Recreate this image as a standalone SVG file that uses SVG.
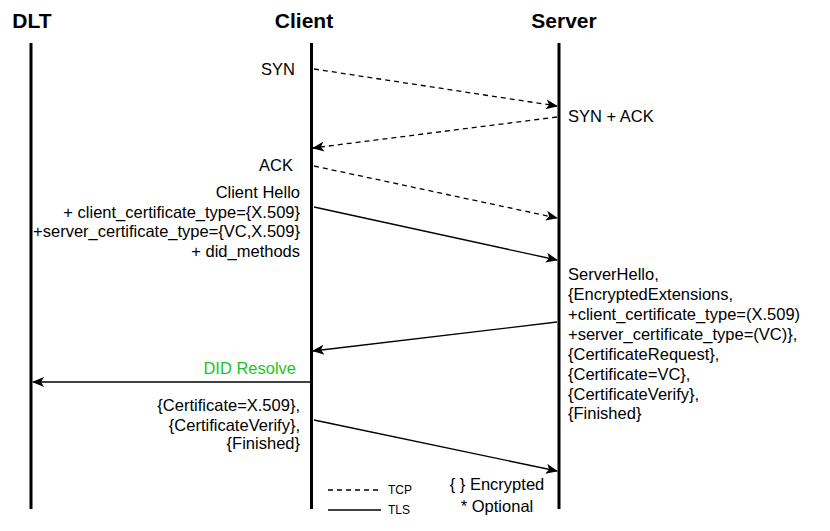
<svg xmlns="http://www.w3.org/2000/svg" width="830" height="531" viewBox="0 0 830 531">
<style>
.t{font-family:"Liberation Sans",Arial,sans-serif;font-size:16.5px;fill:#000}
.h{font-family:"Liberation Sans",Arial,sans-serif;font-size:21px;font-weight:bold;fill:#000}
.life{stroke:#000;stroke-width:3;fill:none}
.tcp{stroke:#000;stroke-width:1.3;stroke-dasharray:5,4;fill:none}
.tls{stroke:#000;stroke-width:1.3;fill:none}
.r{text-anchor:end}
.s{font-size:12px}
</style>
<defs>
<marker id="ah" markerWidth="12" markerHeight="10" refX="11" refY="5" orient="auto" markerUnits="userSpaceOnUse">
<path d="M0,0 L12,5 L0,10 L3,5 Z" fill="#000"/>
</marker>
</defs>
<rect width="830" height="531" fill="#fff"/>
<g id="dlt"><text class="h" x="32" y="28" text-anchor="middle">DLT</text><line class="life" x1="31" y1="43" x2="31" y2="509"/></g>
<g id="client"><text class="h" x="304" y="28" text-anchor="middle">Client</text><line class="life" x1="311.5" y1="43" x2="311.5" y2="509"/></g>
<g id="server"><text class="h" x="564" y="28" text-anchor="middle">Server</text><line class="life" x1="559" y1="43" x2="559" y2="509"/></g>
<g id="connectors">
<line class="tcp" x1="314" y1="69" x2="557" y2="106" marker-end="url(#ah)"/>
<line class="tcp" x1="557" y1="117" x2="313" y2="148" marker-end="url(#ah)"/>
<line class="tcp" x1="314" y1="166" x2="557" y2="218" marker-end="url(#ah)"/>
<line class="tls" x1="314" y1="207" x2="557" y2="260" marker-end="url(#ah)"/>
<line class="tls" x1="557" y1="322" x2="313" y2="351" marker-end="url(#ah)"/>
<line class="tls" x1="310" y1="382" x2="33" y2="382" marker-end="url(#ah)"/>
<line class="tls" x1="314" y1="420" x2="557" y2="471" marker-end="url(#ah)"/>
</g>
<g id="labels">
<text class="t r" x="295" y="75">SYN</text>
<text class="t" x="568" y="122">SYN + ACK</text>
<text class="t r" x="293" y="171">ACK</text>
<text class="t r" x="300" y="198">Client Hello</text>
<text class="t r" x="300" y="218">+ client_certificate_type={X.509}</text>
<text class="t r" x="300" y="237">+server_certificate_type={VC,X.509}</text>
<text class="t r" x="300" y="257">+ did_methods</text>
<text class="t" x="568" y="280">ServerHello,</text>
<text class="t" x="568" y="300">{EncryptedExtensions,</text>
<text class="t" x="568" y="320">+client_certificate_type=(X.509)</text>
<text class="t" x="568" y="340">+server_certificate_type=(VC)},</text>
<text class="t" x="568" y="360">{CertificateRequest},</text>
<text class="t" x="568" y="380">{Certificate=VC},</text>
<text class="t" x="568" y="400">{CertificateVerify},</text>
<text class="t" x="568" y="419">{Finished}</text>
<text class="t r" x="296" y="374" style="fill:#1ec31e">DID Resolve</text>
<text class="t r" x="300" y="411">{Certificate=X.509},</text>
<text class="t r" x="300" y="431">{CertificateVerify},</text>
<text class="t r" x="300" y="449">{Finished}</text>
</g>
<g id="legend">
<line class="tcp" x1="328" y1="490" x2="381" y2="490"/>
<text class="t s" x="388" y="494">TCP</text>
<line class="tls" x1="328" y1="510" x2="381" y2="510"/>
<text class="t s" x="388" y="514">TLS</text>
<text class="t" x="497" y="490" text-anchor="middle">{ } Encrypted</text>
<text class="t" x="497" y="512" text-anchor="middle">* Optional</text>
</g>
</svg>
